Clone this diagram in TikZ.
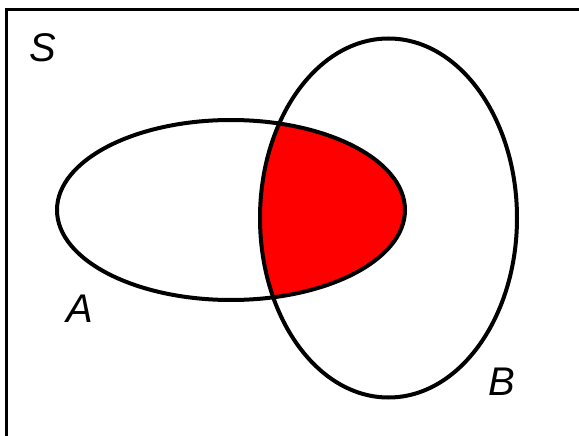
\documentclass[tikz,border=0pt]{standalone}
\usepackage{fontspec}
\setmainfont{Liberation Sans}
\usepackage{xcolor}
\definecolor{setred}{RGB}{255,0,0}

\begin{document}
\begin{tikzpicture}[
  x=1pt, y=-1pt,
  setline/.style={draw=black, line width=4pt},
  setlabel/.style={font=\fontsize{40}{40}\selectfont\itshape, inner sep=0pt},
]
  \useasboundingbox (0,0) rectangle (579,436);

  % Sample space (cut at right and bottom)
  \begin{scope}
    \clip (0,0) rectangle (579,436);
    \draw[setline, line width=3pt] (6.5,9.5) rectangle (600,460);
  \end{scope}

  % Intersection
  \begin{scope}
    \clip (231,210) ellipse [x radius=174, y radius=90];
    \fill[setred] (388.5,218) ellipse [x radius=128.5, y radius=179.5];
  \end{scope}

  % Sets
  \draw[setline] (231,210) ellipse [x radius=174, y radius=90];
  \draw[setline] (388.5,218) ellipse [x radius=128.5, y radius=179.5];

  % Labels
  \node[setlabel] (labS) at (43,48) {S};
  \node[setlabel] (labA) at (80,309) {A};
  \node[setlabel] (labB) at (502,382) {B};
\end{tikzpicture}
\end{document}
